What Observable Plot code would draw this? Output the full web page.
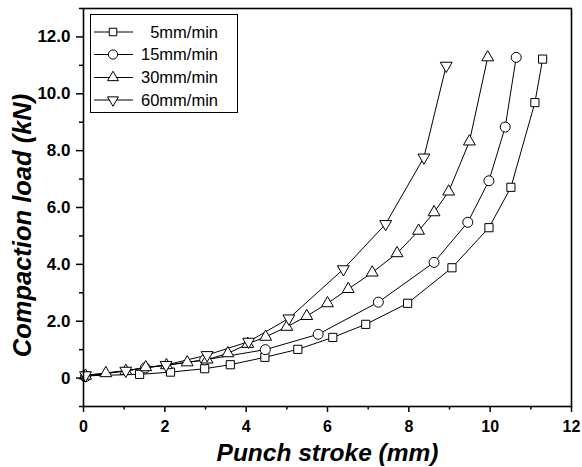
<!DOCTYPE html>
<html>
<head>
<meta charset="utf-8">
<script src="https://cdn.jsdelivr.net/npm/d3@7"></script>
<script src="https://cdn.jsdelivr.net/npm/@observablehq/plot@0.6"></script>
<style>
  html, body { margin: 0; padding: 0; background: #fff; }
  #wrap { position: relative; width: 582px; height: 467px; font-family: "Liberation Sans", Arial, sans-serif; }
  #legend { position: absolute; }
</style>
</head>
<body>
<div id="wrap"></div>
<script>
// ---- data ----
const seriesNames = ["  5mm/min", "15mm/min", "30mm/min", "60mm/min"];

const x5 = [0.05, 1.38, 2.14, 2.98, 3.61, 4.46, 5.27, 6.13, 6.94, 7.97, 9.06, 9.97, 10.51, 11.1, 11.29];
const y5 = [0.08, 0.13, 0.21, 0.33, 0.47, 0.73, 1.01, 1.43, 1.89, 2.63, 3.88, 5.29, 6.71, 9.69, 11.22];

const x15 = [0.05, 1.52, 2.98, 4.47, 5.77, 7.25, 8.62, 9.45, 9.97, 10.37, 10.64];
const y15 = [0.05, 0.36, 0.64, 1.0, 1.54, 2.67, 4.07, 5.48, 6.94, 8.83, 11.28];

const x30 = [0.05, 0.55, 1.04, 1.53, 2.04, 2.55, 3.04, 3.55, 4.04, 4.48, 5.0, 5.49, 6.0, 6.51, 7.1, 7.71, 8.24, 8.62, 8.98, 9.49, 9.94];
const y30 = [0.08, 0.17, 0.25, 0.38, 0.45, 0.55, 0.65, 0.87, 1.2, 1.45, 1.8, 2.18, 2.63, 3.13, 3.71, 4.39, 5.18, 5.83, 6.56, 8.32, 11.28];

const x60 = [0.05, 1.04, 2.03, 3.04, 4.06, 5.05, 6.39, 7.43, 8.37, 8.92];
const y60 = [0.1, 0.26, 0.46, 0.81, 1.28, 2.1, 3.83, 5.42, 7.76, 10.99];

const xTicks = [0, 2, 4, 6, 8, 10, 12];
const xMinor = [1, 3, 5, 7, 9, 11];
const yTicks = [0, 2, 4, 6, 8, 10, 12];
const yMinor = [-1, 1, 3, 5, 7, 9, 11, 13];
const xLabel = "Punch stroke (mm)";
const yLabel = "Compaction load (kN)";

// ---- build tables ----
const toRows = (xs, ys) => xs.map((x, i) => ({x, y: ys[i]}));
const s5 = toRows(x5, y5), s15 = toRows(x15, y15), s30 = toRows(x30, y30), s60 = toRows(x60, y60);

const series = [
  {data: s5, symbol: "square", r: 4.6, rotate: 0},
  {data: s15, symbol: "circle", r: 5, rotate: 0},
  {data: s30, symbol: "triangle", r: 4.4, rotate: 0},
  {data: s60, symbol: "triangle", r: 4.4, rotate: 180}
];

const font = "Liberation Sans, Arial, sans-serif";

const plot = Plot.plot({
  width: 582,
  height: 467,
  marginLeft: 83,
  marginRight: 11,
  marginTop: 8,
  marginBottom: 61,
  style: {fontFamily: font, color: "black", background: "white"},
  x: {domain: [0, 12]},
  y: {domain: [-1, 13]},
  marks: [
    ...series.map(s => Plot.line(s.data, {x: "x", y: "y", stroke: "black", strokeWidth: 1})),
    ...series.map(s => Plot.dot(s.data, {x: "x", y: "y", symbol: s.symbol, r: s.r, rotate: s.rotate, fill: "white", stroke: "black", strokeWidth: 1})),
    Plot.axisX({ticks: xTicks, tickSize: 6, tickPadding: 8, tickFormat: d => String(d), label: null, fontSize: 16, fontWeight: "bold", strokeWidth: 1.5}),
    Plot.axisX({ticks: xMinor, tickSize: 3.5, tickFormat: () => "", label: null, strokeWidth: 1.5}),
    Plot.axisY({ticks: yTicks, tickSize: 7, tickPadding: 6, tickFormat: d => d === 0 ? "0" : d.toFixed(1), label: null, fontSize: 17, fontWeight: "bold", strokeWidth: 1.5}),
    Plot.axisY({ticks: yMinor, tickSize: 4, tickFormat: () => "", label: null, strokeWidth: 1.5}),
    Plot.frame({stroke: "black", strokeWidth: 1.6}),
    Plot.text([xLabel], {frameAnchor: "bottom", dy: 47, fontSize: 24.5, fontWeight: "bold", fontStyle: "italic", textAnchor: "middle", lineAnchor: "middle", fill: "black"}),
    Plot.text([yLabel], {frameAnchor: "left", dx: -61, dy: 18, rotate: -90, fontSize: 25.5, fontWeight: "bold", fontStyle: "italic", textAnchor: "middle", lineAnchor: "middle", fill: "black"})
  ]
});

const wrap = document.getElementById("wrap");
wrap.appendChild(plot);

// ---- legend (overlay) ----
const legW = 148, legH = 99;
const leg = d3.select(wrap).append("svg")
  .attr("id", "legend")
  .attr("width", legW).attr("height", legH)
  .style("left", "90px").style("top", "14px");
leg.append("rect").attr("x", 0.5).attr("y", 0.5).attr("width", legW - 1).attr("height", legH - 1)
  .attr("fill", "white").attr("stroke", "black").attr("stroke-width", 1);
const symMap = {square: d3.symbolSquare, circle: d3.symbolCircle, triangle: d3.symbolTriangle};
const rowY = [18, 40.5, 63.5, 86];
series.forEach((s, i) => {
  const g = leg.append("g").attr("transform", `translate(0,${rowY[i]})`);
  g.append("line").attr("x1", 4).attr("x2", 43).attr("y1", 0).attr("y2", 0).attr("stroke", "black").attr("stroke-width", 1);
  g.append("path")
    .attr("d", d3.symbol(symMap[s.symbol], Math.PI * s.r * s.r * 0.85)())
    .attr("transform", `translate(23,0) rotate(${s.rotate})`)
    .attr("fill", "white").attr("stroke", "black").attr("stroke-width", 1);
  g.append("text").attr("x", 128).attr("y", 0).attr("dy", "0.36em")
    .attr("text-anchor", "end")
    .attr("font-family", font).attr("font-size", 16.5)
    .attr("xml:space", "preserve").style("white-space", "pre")
    .text(seriesNames[i]);
});
</script>
</body>
</html>
